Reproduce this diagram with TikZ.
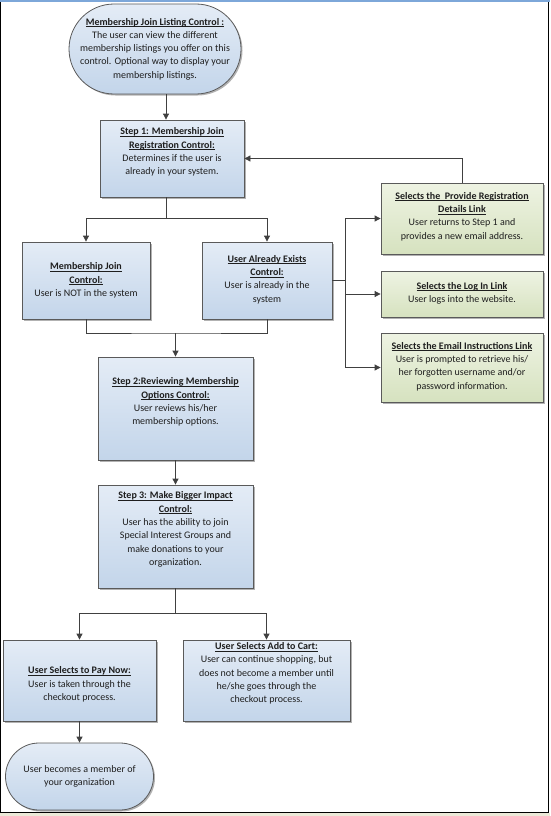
\documentclass[tikz,border=0pt]{standalone}
\usepackage{fontspec}
\setmainfont{Carlito}
\usetikzlibrary{shapes.misc,shadows,arrows.meta}
\definecolor{blueT}{HTML}{E4ECF6}
\definecolor{blueB}{HTML}{C3D5EA}
\definecolor{greenT}{HTML}{EEF3E3}
\definecolor{greenB}{HTML}{D6E2BF}
\definecolor{edgegray}{HTML}{5A5A5A}
\definecolor{wire}{HTML}{404040}
\definecolor{txt}{HTML}{1E1E1E}
\definecolor{frameblue}{HTML}{7DA7D9}
\definecolor{beige}{HTML}{ECE9D8}
\newsavebox\mytbox
\newcommand\mytitle[1]{\sbox\mytbox{\textbf{#1}}\rlap{\rule[-1.7pt]{\wd\mytbox}{0.7pt}}\usebox\mytbox}
\begin{document}
\begin{tikzpicture}[x=1pt,y=-1pt,
 shd/.style={drop shadow={shadow xshift=1.5pt,shadow yshift=-1.5pt,opacity=0.3,fill=black}},
 bluebox/.style={draw=edgegray,line width=0.8pt,top color=blueT,bottom color=blueB,shd,inner sep=0pt},
 greenbox/.style={draw=edgegray,line width=0.8pt,top color=greenT,bottom color=greenB,shd,inner sep=0pt},
 term/.style={bluebox,rounded rectangle},
 lbl/.style={align=center,inner sep=0pt,text=txt,font=\fontsize{10}{13.3}\selectfont},
 wirestyle/.style={draw=wire,line width=0.8pt},
 arr/.style={wirestyle,-{Triangle[width=6pt,length=6pt]}},
]
\useasboundingbox (0,0) rectangle (550,816);
% frame
\fill[beige] (0,812.5) rectangle (550,816);
\draw[black,line width=1pt] (0.5,0) -- (0.5,812.5) -- (548.5,812.5) -- (548.5,0);
\draw[frameblue,line width=2pt] (0,1.5) -- (550,1.5);

% boxes
\node[term,minimum width=172pt,minimum height=90pt] (top) at (155,49) {};
\node[bluebox,minimum width=144pt,minimum height=77pt] (step1) at (172,158.5) {};
\node[bluebox,minimum width=128pt,minimum height=77pt] (mjc) at (86,280.5) {};
\node[bluebox,minimum width=130pt,minimum height=77pt] (uae) at (267,280.5) {};
\node[greenbox,minimum width=162pt,minimum height=71pt] (g1) at (462,218.5) {};
\node[greenbox,minimum width=162pt,minimum height=46pt] (g2) at (462,294) {};
\node[greenbox,minimum width=162pt,minimum height=69pt] (g3) at (462,367.5) {};
\node[bluebox,minimum width=155pt,minimum height=103pt] (step2) at (175.5,408.5) {};
\node[bluebox,minimum width=155pt,minimum height=103pt] (step3) at (175.5,536.5) {};
\node[bluebox,minimum width=153pt,minimum height=81pt] (pay) at (79.5,680.5) {};
\node[bluebox,minimum width=167pt,minimum height=81pt] (cart) at (266.5,680.5) {};
\node[term,minimum width=148pt,minimum height=67pt] (end) at (79.5,776.5) {};

% texts
\node[lbl] (topt) at (155,49) {\mytitle{Membership Join Listing Control :}\\The user can view the different\\membership listings you offer on this\\control. Optional way to display your\\membership listings.};
\node[lbl] (step1t) at (172,152) {\mytitle{Step 1: Membership Join}\\\mytitle{Registration Control:}\\Determines if the user is\\already in your system.};
\node[lbl] (mjct) at (86,280.5) {\mytitle{Membership Join}\\\mytitle{Control:}\\User is NOT in the system};
\node[lbl] (uaet) at (267,279.5) {\mytitle{User Already Exists}\\\mytitle{Control:}\\User is already in the\\system};
\node[lbl] (g1t) at (462,216.5) {\mytitle{Selects the\ \ Provide Registration}\\\mytitle{Details Link}\\User returns to Step 1 and\\provides a new email address.};
\node[lbl] (g2t) at (462,293) {\mytitle{Selects the Log In Link}\\User logs into the website.};
\node[lbl] (g3t) at (462,366.5) {\mytitle{Selects the Email Instructions Link}\\User is prompted to retrieve his/\\her forgotten username and/or\\password information.};
\node[lbl] (step2t) at (175.5,402) {\mytitle{Step 2:Reviewing Membership}\\\mytitle{Options Control:}\\User reviews his/her\\membership options.};
\node[lbl] (step3t) at (175.5,529.5) {\mytitle{Step 3: Make Bigger Impact}\\\mytitle{Control:}\\User has the ability to join\\Special Interest Groups and\\make donations to your\\organization.};
\node[lbl] (payt) at (79.5,684.5) {\mytitle{User Selects to Pay Now:}\\User is taken through the\\checkout process.};
\node[lbl] (cartt) at (266.5,673.5) {\mytitle{User Selects Add to Cart:}\\User can continue shopping, but\\does not become a member until\\he/she goes through the\\checkout process.};
\node[lbl] (endt) at (79.5,776.5) {User becomes a member of\\your organization};

% connectors
\coordinate (c1) at (166,0);
\draw[arr] (top.south -| c1) -- (step1.north -| c1);
\coordinate (sp1) at (166,218);
\draw[wirestyle] (step1.south -| sp1) -- (sp1);
\draw[arr] (sp1) -| (mjc.north);
\draw[arr] (sp1) -| (uae.north);
\coordinate (bus) at (345,0);
\coordinate (busa) at (uae.east -| bus);
\draw[wirestyle] (uae.east) -- (busa);
\draw[arr] (busa) |- (g1.west);
\draw[arr] (busa) |- (g2.west);
\draw[arr] (busa) |- (g3.west);
\draw[arr] (g1.north) |- (step1.east);
\coordinate (j2) at (175.5,333);
\draw[wirestyle] (mjc.south) |- (j2) -| (uae.south);
\draw[arr] (j2) -- (step2.north);
\draw[arr] (step2.south) -- (step3.north);
\coordinate (sp3) at (175.5,613);
\draw[wirestyle] (step3.south) -- (sp3);
\draw[arr] (sp3) -| (pay.north);
\draw[arr] (sp3) -| (cart.north);
\draw[arr] (pay.south) -- (end.north);
\end{tikzpicture}
\end{document}
